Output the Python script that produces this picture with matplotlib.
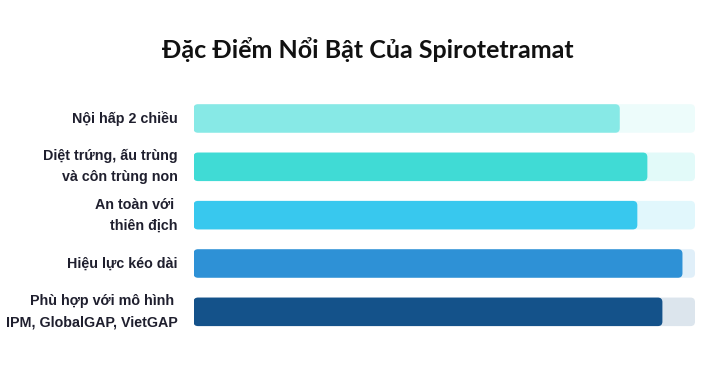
import matplotlib
matplotlib.use("Agg")
import matplotlib.pyplot as plt
from matplotlib.patches import FancyBboxPatch
from matplotlib.colors import to_rgba

title = "Đặc Điểm Nổi Bật Của Spirotetramat"
categories = [
    "Nội hấp 2 chiều",
    "Diệt trứng, ấu trùng\nvà côn trùng non",
    "An toàn với \nthiên địch",
    "Hiệu lực kéo dài",
    "Phù hợp với mô hình \nIPM, GlobalGAP, VietGAP",
]
values = [85, 90.5, 88.5, 97.5, 93.5]
max_value = 100
colors = ["#87E9E6", "#40DBD5", "#38C8EE", "#2E91D6", "#14528A"]

W, H = 715, 390
fig = plt.figure(figsize=(W / 100, H / 100), dpi=100)
ax_left, ax_right = 193.5, 695
ax_top, ax_bottom = 94.3, 336.0
ax = fig.add_axes([ax_left / W, 1 - ax_bottom / H, (ax_right - ax_left) / W, (ax_bottom - ax_top) / H])
ax.set_xlim(0, max_value)
ax.set_ylim(len(categories) - 0.5, -0.5)
ax.axis("off")

ypos = list(range(len(categories)))
bar_h = 0.59

def white_blend(c, a):
    r, g, b, _ = to_rgba(c)
    return (1 - a + a * r, 1 - a + a * g, 1 - a + a * b)

tracks = ax.barh(ypos, [max_value] * len(values), height=bar_h,
                 color=[white_blend(c, 0.15) for c in colors])
bars = ax.barh(ypos, values, height=bar_h, color=colors)

px_x = max_value / (ax_right - ax_left)
px_y = len(categories) / (ax_bottom - ax_top)
radius_px = 4.5

def round_patches(container):
    for p in container.patches:
        x, y = p.get_x(), p.get_y()
        w, h = p.get_width(), p.get_height()
        fc = p.get_facecolor()
        p.set_visible(False)
        fp = FancyBboxPatch((x, y), w, h,
                            boxstyle=f"round,pad=0,rounding_size={radius_px * px_x}",
                            mutation_aspect=px_y / px_x,
                            facecolor=fc, edgecolor="none", zorder=2)
        ax.add_patch(fp)

round_patches(tracks)
round_patches(bars)

for y, lab in zip(ypos, categories):
    ax.text(-15.8 * px_x, y, lab, ha="right", va="center", multialignment="right",
            fontsize=10.3, fontweight="bold", color="#1f1f2e",
            family=["Liberation Sans", "DejaVu Sans"], linespacing=1.62)

fig.text(368 / W, 1 - 50 / H, title, ha="center", va="center",
         fontsize=18, fontweight="bold", color="#111111",
         family=["Lato", "DejaVu Sans"])

fig.savefig("out.png", dpi=100, facecolor="white")
